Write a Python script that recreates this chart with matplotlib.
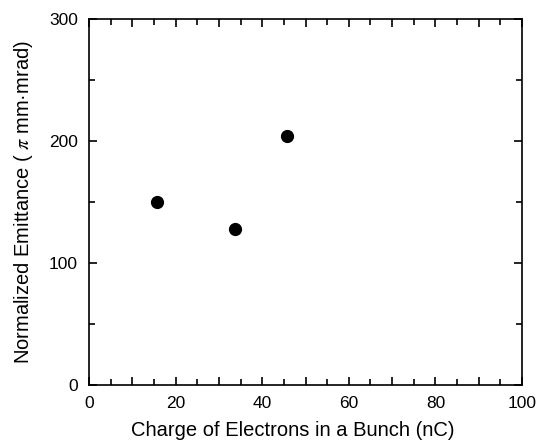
import matplotlib
matplotlib.use("Agg")
import matplotlib.pyplot as plt
from matplotlib.ticker import MultipleLocator

plt.rcParams['font.family'] = ['Liberation Sans', 'DejaVu Sans']
plt.rcParams['mathtext.fontset'] = 'stix'

charge = [15.8, 33.8, 45.8]
emittance = [150, 128, 204]
x_tick_labels = ['0', '', '20', '', '40', '', '60', '', '80', '', '100']

fig = plt.figure(figsize=(5.52, 4.41), dpi=100)
ax = fig.add_axes([89/552, 1-385/441, (522-89)/552, (385-19)/441])
ax.plot(charge, emittance, 'o', color='black', markersize=8.5, linestyle='none')

ax.set_xlim(0, 100)
ax.set_ylim(0, 300)
ax.set_xticks(range(0, 101, 10))
ax.set_xticklabels(x_tick_labels)
ax.xaxis.set_minor_locator(MultipleLocator(5))
ax.yaxis.set_major_locator(MultipleLocator(100))
ax.yaxis.set_minor_locator(MultipleLocator(50))

ax.tick_params(which='both', direction='in', top=True, right=True, labelsize=12.5, width=1.2)
ax.tick_params(axis='x', pad=8)
ax.tick_params(axis='y', pad=8)
ax.tick_params(which='major', length=6)
ax.tick_params(which='minor', length=4)
for s in ax.spines.values():
    s.set_linewidth(1.2)

ax.set_xlabel('Charge of Electrons in a Bunch (nC)', fontsize=14.5)
ax.set_ylabel('Normalized Emittance ( $\\pi$ mm\u00b7mrad)', fontsize=14.5)
ax.xaxis.set_label_coords(0.47, -0.098)
ax.yaxis.set_label_coords(-0.125, 0.5)

fig.savefig('out.png', dpi=100)
